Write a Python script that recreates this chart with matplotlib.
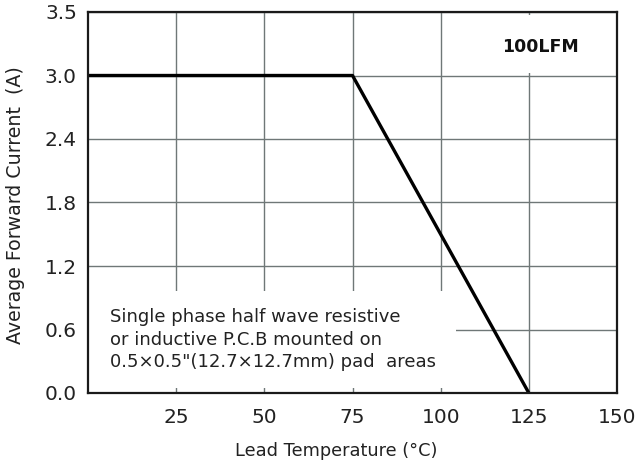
import matplotlib
matplotlib.use("Agg")
import matplotlib.pyplot as plt
from matplotlib.patches import Rectangle

# Data
temp = [0, 75, 125]
current = [3.0, 3.0, 0.0]
xticks = [25, 50, 75, 100, 125, 150]
xticklabels = ["25", "50", "75", "100", "125", "150"]
yticks = [0.0, 0.6, 1.2, 1.8, 2.4, 3.0, 3.6]
yticklabels = ["0.0", "0.6", "1.2", "1.8", "2.4", "3.0", "3.5"]

plt.rcParams['font.family'] = ['DejaVu Sans']

fig = plt.figure(figsize=(6.35, 4.68), dpi=100)
ax = fig.add_axes([88/635, 1-393/468, 529/635, 381/468])

ax.set_xlim(0, 150)
ax.set_ylim(0, 3.6)
ax.set_xticks(xticks)
ax.set_xticklabels(xticklabels)
ax.set_yticks(yticks)
ax.set_yticklabels(yticklabels)
ax.tick_params(length=0, labelsize=14.5, colors='#222222')
ax.tick_params(axis='x', pad=10.5)
ax.tick_params(axis='y', pad=8)
ax.set_axisbelow(True)
ax.grid(True, color='#6f7777', linewidth=1.0)
for s in ax.spines.values():
    s.set_linewidth(1.6)
    s.set_color('#1a1a1a')
    s.set_zorder(5)

# white boxes behind annotations
ax.add_patch(Rectangle((0, 0.013), 0.696, 0.255, transform=ax.transAxes,
                       facecolor='white', edgecolor='none', zorder=1))
ax.add_patch(Rectangle((0.74, 0.84), 0.22, 0.152, transform=ax.transAxes,
                       facecolor='white', edgecolor='none', zorder=1))

ax.plot(temp, current, color='black', linewidth=2.4, zorder=3, solid_capstyle='butt')

ax.text(0.0416, 0.222, "Single phase half wave resistive\nor inductive P.C.B mounted on\n0.5\u00d70.5\"(12.7\u00d712.7mm) pad  areas",
        transform=ax.transAxes, fontsize=13, color='#222222', va='top', ha='left',
        linespacing=1.3, zorder=4)
ax.text(0.855, 0.895, "100LFM", transform=ax.transAxes, fontsize=12.5, fontweight='bold',
        color='#111111', ha='center', va='baseline', zorder=4)

ax.set_xlabel("Lead Temperature (\u00b0C)", fontsize=12.8, color='#222222')
ax.set_ylabel("Average Forward Current  (A)", fontsize=13.7, color='#222222')
ax.xaxis.set_label_coords(0.469, -0.128)
ax.yaxis.set_label_coords(-0.119, 0.493)

fig.savefig("out.png", dpi=100)
